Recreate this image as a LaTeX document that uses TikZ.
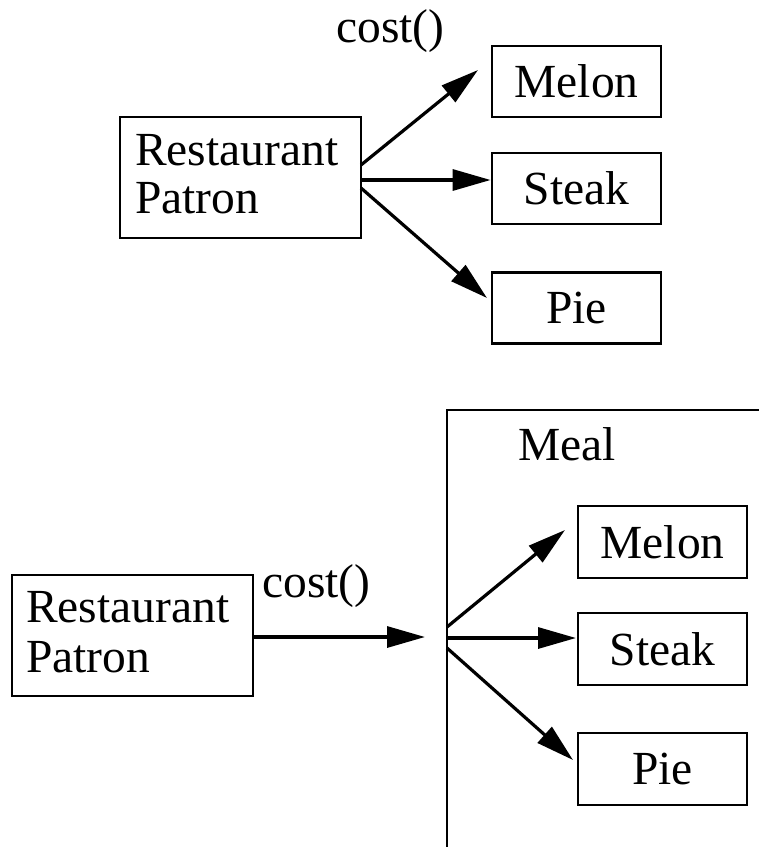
\documentclass[tikz,border=0pt]{standalone}
\usepackage{fontspec}
\setmainfont{Liberation Serif}
\usetikzlibrary{arrows.meta}
\begin{document}
\begin{tikzpicture}[x=1pt,y=-1pt,
  every node/.style={font=\fontsize{47.5}{50}\selectfont},
  box/.style={draw, line width=2.8pt, inner sep=0pt},
  dish/.style={box, minimum width=169pt, minimum height=71pt},
  txt/.style={inner sep=0pt, anchor=base west},
  arr/.style={line width=3.2pt, -{Triangle[length=38pt,width=21pt]}}]
\useasboundingbox (0,0) rectangle (759,847);
% ---------- top ----------
\node[box, minimum width=241pt, minimum height=121pt] (P1) at (240.5,177.5) {};
\node[txt] (P1a) at (135,165) {Restaurant};
\node[txt] (P1b) at (135,213) {Patron};
\node[dish] (M1) at (576.5,81.5) {Melon};
\node[dish] (S1) at (576.5,188.5) {Steak};
\node[dish] (D1) at (576.5,308) {Pie};
\node[txt] (c1) at (336,42) {cost()};
\coordinate (p1m) at (361,165);
\coordinate (p1s) at (361,180);
\coordinate (p1d) at (361,188);
\coordinate (t1m) at (478,70);
\coordinate (t1d) at (487,298);
\draw[arr] (p1m) -- (t1m);
\draw[arr] (p1s) -- (S1.west |- p1s);
\draw[arr] (p1d) -- (t1d);
% ---------- bottom ----------
\coordinate (fr) at (760,410);
\coordinate (fb) at (447,848);
\draw[line width=2.8pt] (fr) -| (fb);
\node[txt] (meal) at (518,460) {Meal};
\node[box, minimum width=241pt, minimum height=121pt] (P2) at (132.5,635.5) {};
\node[txt] (P2a) at (26,622) {Restaurant};
\node[txt] (P2b) at (26,672) {Patron};
\node[txt] (c2) at (262,597) {cost()};
\coordinate (t2) at (425,637);
\draw[arr] (P2.east |- t2) -- (t2);
\node[dish, minimum width=169pt, minimum height=72pt] (M2) at (662.5,542) {Melon};
\node[dish, minimum width=169pt, minimum height=72pt] (S2) at (662.5,649) {Steak};
\node[dish, minimum width=169pt, minimum height=72pt] (D2) at (662.5,769) {Pie};
\coordinate (q2m) at (447,627);
\coordinate (q2s) at (447,638);
\coordinate (q2d) at (447,648);
\coordinate (t2m) at (565,530);
\coordinate (t2s) at (576,638);
\coordinate (t2d) at (573,760);
\draw[arr] (q2m) -- (t2m);
\draw[arr] (q2s) -- (t2s);
\draw[arr] (q2d) -- (t2d);
\end{tikzpicture}
\end{document}
